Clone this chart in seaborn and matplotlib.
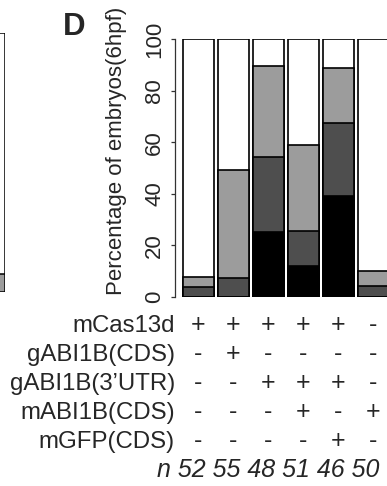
import matplotlib
matplotlib.use('Agg')
import matplotlib.pyplot as plt
import matplotlib.transforms as mtransforms
import numpy as np
import pandas as pd
import seaborn as sns

# percentages of embryos per phenotype class, bottom to top
conditions = ['1', '2', '3', '4', '5', '6']
severe = [0, 0, 25.0, 11.8, 39.1, 0]
moderate = [3.8, 7.3, 29.2, 13.7, 28.3, 4.0]
mild = [3.8, 41.8, 35.4, 33.3, 21.7, 6.0]
n_embryos = [52, 55, 48, 51, 46, 50]

row_names = ['mCas13d', 'gABI1B(CDS)', "gABI1B(3\u2019UTR)", 'mABI1B(CDS)', 'mGFP(CDS)']
row_signs = [
    ['+', '+', '+', '+', '+', '-'],
    ['-', '+', '-', '-', '-', '-'],
    ['-', '-', '+', '+', '+', '-'],
    ['-', '-', '-', '+', '-', '+'],
    ['-', '-', '-', '-', '+', '-'],
]

# remnant of the neighbouring panel on the left edge
prev_mild = [7]

yticks = [0, 20, 40, 60, 80, 100]

sns.set_style('white')
plt.rcParams['font.family'] = ['Liberation Sans', 'DejaVu Sans']

W, H = 387, 486
fig = plt.figure(figsize=(W / 100, H / 100), dpi=100)

def px(x0, y_top, x1, y_bot):
    return [x0 / W, 1 - y_bot / H, (x1 - x0) / W, (y_bot - y_top) / H]

# main panel D
ax = fig.add_axes(px(175, 39.5, 387, 296.7))
df = pd.DataFrame({'cond': conditions, 'severe': severe,
                   'moderate': moderate, 'mild': mild})
df['c1'] = df['severe']
df['c2'] = df['c1'] + df['moderate']
df['c3'] = df['c2'] + df['mild']
df['c4'] = 100

layers = [('c4', 'white'), ('c3', '#9c9c9c'), ('c2', '#4e4e4e'), ('c1', 'black')]
for col, colr in layers:
    sns.barplot(data=df, x='cond', y=col, color=colr, saturation=1, width=0.886,
                edgecolor='black', linewidth=1.2, errorbar=None, ax=ax)

ax.set_xlim(-0.671, 5.386)
ax.set_ylim(0, 100)
ax.set_xticks([])
ax.set_xlabel('')
ax.set_ylabel('')
for s in ['top', 'right', 'bottom']:
    ax.spines[s].set_visible(False)
ax.spines['left'].set_bounds(0, 100)
ax.spines['left'].set_linewidth(0.9)
ax.spines['left'].set_color('#333333')
ax.set_yticks(yticks)
ax.set_yticklabels([str(t) for t in yticks], rotation=90, va='center',
                   family=['Liberation Sans Narrow', 'Liberation Sans'], fontsize=16)
ax.tick_params(axis='y', left=True, length=3, width=0.9, color='#333333', pad=4)

fig.text(117 / W, 1 - 151 / H, 'Percentage of embryos(6hpf)', rotation=90,
         ha='center', va='center', fontsize=16)
fig.text(63 / W, 1 - 35 / H, 'D', fontsize=22.5, fontweight='bold',
         ha='left', va='baseline')

# condition table under the bars
tr_sign = mtransforms.blended_transform_factory(ax.transData, fig.transFigure)
tr_name = mtransforms.blended_transform_factory(ax.transAxes, fig.transFigure)
baselines = [332, 361, 390, 419, 448]
for name, signs, yb in zip(row_names, row_signs, baselines):
    fig.text(0, 1 - yb / H, name, transform=tr_name, ha='right', va='baseline',
             fontsize=17.3)
    for i, sgn in enumerate(signs):
        ax.text(i, 1 - yb / H, sgn, transform=tr_sign, ha='center', va='baseline',
                fontsize=18)

n_line = 'n ' + ' '.join(str(v) for v in n_embryos)
fig.text(157 / W, 1 - 477 / H, n_line, ha='left', va='baseline', fontsize=18,
         style='italic')

# partial panel on the left
ax0 = fig.add_axes(px(-40, 33, 5, 292))
df0 = pd.DataFrame({'cond': ['x'], 'top': [100], 'mild': prev_mild})
sns.barplot(data=df0, x='cond', y='top', color='white', saturation=1, width=1.0,
            edgecolor='black', linewidth=1.1, errorbar=None, ax=ax0)
sns.barplot(data=df0, x='cond', y='mild', color='#9c9c9c', saturation=1, width=1.0,
            edgecolor='black', linewidth=1.1, errorbar=None, ax=ax0)
ax0.set_xlim(-0.5, 0.5)
ax0.set_ylim(0, 100)
ax0.axis('off')

fig.savefig('out.png', dpi=100)
